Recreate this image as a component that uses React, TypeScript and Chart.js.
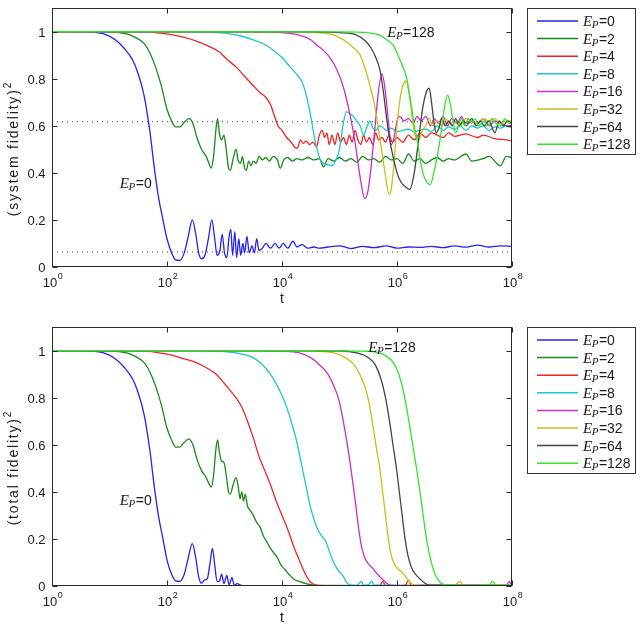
import { useEffect, useRef } from 'react';
import { Chart, registerables } from 'chart.js';

Chart.register(...registerables);

// Each point is [log10(t), fidelity^2]
type Pt = [number, number];

const EP_VALUES = ['0', '2', '4', '8', '16', '32', '64', '128'];
const COLORS = ['#2424ee', '#198a19', '#f02424', '#1ec8c8', '#cc2ccc', '#c8c018', '#444444', '#2ee82e'];
const Y_TICKS = [0, 0.2, 0.4, 0.6, 0.8, 1];
const X_TICK_EXPONENTS = [0, 2, 4, 6, 8];
const SYS_REFERENCE_LEVELS = [0.617, 0.064];

// ---------- (system fidelity)^2 ----------
const sysEP0: Pt[] = [
  [0, 1], [0.6, 0.999], [0.9, 0.99], [1.1, 0.965], [1.25, 0.93], [1.4, 0.88], [1.5, 0.82], [1.6, 0.73],
  [1.7, 0.58], [1.78, 0.42], [1.85, 0.3], [1.93, 0.2], [2.0, 0.12], [2.08, 0.06], [2.15, 0.03], [2.22, 0.028],
  [2.3, 0.06], [2.37, 0.13], [2.44, 0.2], [2.5, 0.14], [2.55, 0.06], [2.6, 0.035], [2.66, 0.05], [2.72, 0.12],
  [2.78, 0.2], [2.83, 0.12], [2.87, 0.05], [2.92, 0.07], [2.96, 0.14], [3.0, 0.06], [3.04, 0.04], [3.08, 0.13],
  [3.11, 0.16], [3.14, 0.05], [3.18, 0.15], [3.21, 0.04], [3.25, 0.12], [3.28, 0.05], [3.32, 0.1], [3.35, 0.06],
  [3.39, 0.13], [3.43, 0.06], [3.48, 0.09], [3.52, 0.06], [3.56, 0.12], [3.6, 0.07], [3.66, 0.08], [3.72, 0.1],
  [3.8, 0.08], [3.88, 0.1], [3.95, 0.08], [4.02, 0.1], [4.1, 0.08], [4.19, 0.11], [4.26, 0.085], [4.35, 0.095],
  [4.45, 0.08], [4.55, 0.085], [4.65, 0.08], [4.8, 0.085], [5.0, 0.09], [5.2, 0.078], [5.4, 0.088], [5.6, 0.082],
  [5.8, 0.09], [6.0, 0.08], [6.2, 0.085], [6.4, 0.083], [6.6, 0.088], [6.8, 0.082], [7.0, 0.09], [7.2, 0.084],
  [7.4, 0.093], [7.6, 0.085], [7.8, 0.09], [8, 0.088],
];
const sysEP2: Pt[] = [
  [0, 1], [1.0, 0.998], [1.3, 0.99], [1.45, 0.975], [1.6, 0.95], [1.7, 0.91], [1.8, 0.85], [1.9, 0.77],
  [2.0, 0.67], [2.08, 0.62], [2.15, 0.595], [2.22, 0.595], [2.3, 0.615], [2.38, 0.63], [2.45, 0.61], [2.52, 0.55],
  [2.6, 0.5], [2.68, 0.47], [2.73, 0.44], [2.77, 0.42], [2.81, 0.47], [2.85, 0.58], [2.88, 0.63], [2.91, 0.57],
  [2.95, 0.54], [2.99, 0.56], [3.03, 0.5], [3.07, 0.42], [3.1, 0.41], [3.15, 0.46], [3.2, 0.5], [3.24, 0.45],
  [3.28, 0.44], [3.31, 0.47], [3.35, 0.42], [3.38, 0.41], [3.42, 0.45], [3.46, 0.43], [3.5, 0.45], [3.55, 0.44],
  [3.6, 0.47], [3.66, 0.455], [3.72, 0.465], [3.78, 0.45], [3.85, 0.47], [3.92, 0.455], [3.97, 0.42], [4.03, 0.455],
  [4.1, 0.465], [4.18, 0.45], [4.26, 0.46], [4.35, 0.455], [4.45, 0.465], [4.55, 0.455], [4.65, 0.46], [4.72, 0.425],
  [4.8, 0.46], [4.9, 0.45], [5.0, 0.465], [5.1, 0.45], [5.2, 0.46], [5.3, 0.445], [5.4, 0.47], [5.5, 0.455],
  [5.6, 0.46], [5.7, 0.445], [5.8, 0.47], [5.9, 0.455], [6.0, 0.46], [6.1, 0.44], [6.2, 0.48], [6.3, 0.45],
  [6.4, 0.46], [6.5, 0.44], [6.6, 0.455], [6.7, 0.465], [6.8, 0.45], [6.9, 0.46], [7.0, 0.455], [7.2, 0.48],
  [7.3, 0.45], [7.5, 0.46], [7.6, 0.47], [7.8, 0.43], [7.9, 0.47], [8, 0.465],
];
const sysEP4: Pt[] = [
  [0, 1], [1.5, 0.999], [2.0, 0.99], [2.3, 0.975], [2.5, 0.96], [2.7, 0.94], [2.9, 0.915], [3.05, 0.88],
  [3.2, 0.85], [3.35, 0.81], [3.5, 0.77], [3.62, 0.74], [3.72, 0.72], [3.8, 0.69], [3.87, 0.64], [3.93, 0.6],
  [4.0, 0.58], [4.08, 0.55], [4.16, 0.53], [4.22, 0.51], [4.27, 0.505], [4.32, 0.54], [4.37, 0.525], [4.42, 0.535],
  [4.48, 0.52], [4.54, 0.53], [4.6, 0.51], [4.65, 0.56], [4.7, 0.58], [4.74, 0.55], [4.78, 0.57], [4.82, 0.52],
  [4.87, 0.56], [4.92, 0.52], [4.97, 0.57], [5.02, 0.53], [5.07, 0.55], [5.12, 0.52], [5.17, 0.56], [5.22, 0.53],
  [5.27, 0.58], [5.32, 0.54], [5.37, 0.52], [5.42, 0.56], [5.47, 0.53], [5.52, 0.55], [5.58, 0.52], [5.63, 0.57],
  [5.68, 0.54], [5.74, 0.55], [5.8, 0.53], [5.86, 0.56], [5.92, 0.53], [6.0, 0.55], [6.1, 0.53], [6.2, 0.56],
  [6.3, 0.54], [6.4, 0.57], [6.5, 0.55], [6.6, 0.57], [6.7, 0.56], [6.8, 0.55], [6.9, 0.57], [7.0, 0.555],
  [7.2, 0.565], [7.4, 0.55], [7.5, 0.56], [7.7, 0.545], [7.9, 0.54], [8, 0.535],
];
const sysEP8: Pt[] = [
  [0, 1], [2.5, 0.999], [3.0, 0.993], [3.3, 0.98], [3.5, 0.965], [3.7, 0.945], [3.85, 0.92], [4.0, 0.89],
  [4.14, 0.85], [4.25, 0.82], [4.34, 0.79], [4.4, 0.75], [4.45, 0.7], [4.5, 0.64], [4.55, 0.57], [4.6, 0.51],
  [4.66, 0.46], [4.72, 0.44], [4.8, 0.435], [4.87, 0.43], [4.93, 0.45], [5.0, 0.5], [5.06, 0.6], [5.12, 0.66],
  [5.18, 0.65], [5.24, 0.64], [5.3, 0.62], [5.36, 0.6], [5.42, 0.56], [5.47, 0.59], [5.53, 0.62], [5.58, 0.59],
  [5.63, 0.58], [5.7, 0.6], [5.76, 0.59], [5.82, 0.58], [5.9, 0.59], [6.0, 0.575], [6.1, 0.58], [6.2, 0.585],
  [6.3, 0.575], [6.4, 0.58], [6.5, 0.585], [6.6, 0.575], [6.7, 0.6], [6.8, 0.58], [6.9, 0.595], [7.0, 0.585],
  [7.1, 0.6], [7.2, 0.58], [7.3, 0.6], [7.4, 0.59], [7.5, 0.6], [7.6, 0.58], [7.7, 0.595], [7.8, 0.59],
  [7.9, 0.6], [8, 0.59],
];
const sysEP16: Pt[] = [
  [0, 1], [3.5, 0.999], [4.0, 0.995], [4.3, 0.985], [4.5, 0.965], [4.62, 0.94], [4.72, 0.92], [4.83, 0.89],
  [4.95, 0.84], [5.06, 0.77], [5.18, 0.65], [5.27, 0.53], [5.36, 0.38], [5.44, 0.29], [5.5, 0.33], [5.56, 0.45],
  [5.62, 0.6], [5.68, 0.75], [5.74, 0.82], [5.79, 0.76], [5.85, 0.62], [5.9, 0.52], [5.95, 0.55], [6.0, 0.62],
  [6.05, 0.64], [6.12, 0.62], [6.2, 0.63], [6.28, 0.61], [6.35, 0.64], [6.42, 0.62], [6.5, 0.64], [6.58, 0.6],
  [6.65, 0.63], [6.72, 0.61], [6.8, 0.64], [6.88, 0.6], [6.95, 0.63], [7.05, 0.61], [7.12, 0.64], [7.2, 0.6],
  [7.3, 0.62], [7.4, 0.61], [7.5, 0.63], [7.6, 0.6], [7.7, 0.62], [7.8, 0.61], [7.9, 0.6], [8, 0.6],
];
const sysEP32: Pt[] = [
  [0, 1], [4.0, 0.999], [4.6, 0.995], [4.9, 0.985], [5.1, 0.96], [5.25, 0.93], [5.36, 0.9], [5.45, 0.84],
  [5.53, 0.77], [5.6, 0.7], [5.65, 0.63], [5.7, 0.55], [5.76, 0.45], [5.81, 0.37], [5.86, 0.31], [5.9, 0.33],
  [5.95, 0.45], [6.0, 0.6], [6.05, 0.71], [6.1, 0.77], [6.16, 0.79], [6.22, 0.72], [6.28, 0.6], [6.33, 0.55],
  [6.38, 0.54], [6.44, 0.58], [6.5, 0.6], [6.56, 0.63], [6.62, 0.6], [6.7, 0.62], [6.78, 0.6], [6.85, 0.63],
  [6.92, 0.61], [7.0, 0.62], [7.1, 0.6], [7.2, 0.63], [7.3, 0.62], [7.4, 0.61], [7.5, 0.63], [7.6, 0.62],
  [7.7, 0.63], [7.8, 0.61], [7.9, 0.62], [8, 0.62],
];
const sysEP64: Pt[] = [
  [0, 1], [4.5, 0.999], [5.0, 0.995], [5.3, 0.985], [5.45, 0.96], [5.55, 0.93], [5.63, 0.89], [5.7, 0.84],
  [5.76, 0.75], [5.82, 0.63], [5.88, 0.53], [5.94, 0.46], [6.0, 0.4], [6.07, 0.36], [6.15, 0.34], [6.22, 0.33],
  [6.3, 0.4], [6.38, 0.55], [6.45, 0.68], [6.52, 0.75], [6.56, 0.76], [6.6, 0.7], [6.64, 0.62], [6.68, 0.57],
  [6.73, 0.59], [6.78, 0.63], [6.84, 0.6], [6.9, 0.62], [6.96, 0.6], [7.02, 0.63], [7.08, 0.6], [7.15, 0.62],
  [7.22, 0.61], [7.3, 0.63], [7.38, 0.6], [7.45, 0.62], [7.52, 0.6], [7.6, 0.62], [7.7, 0.57], [7.78, 0.62],
  [7.85, 0.6], [7.92, 0.62], [8, 0.61],
];
const sysEP128: Pt[] = [
  [0, 1], [5.0, 0.999], [5.5, 0.995], [5.7, 0.985], [5.85, 0.96], [5.94, 0.94], [6.05, 0.88], [6.12, 0.84],
  [6.17, 0.8], [6.22, 0.73], [6.26, 0.67], [6.3, 0.6], [6.35, 0.54], [6.4, 0.46], [6.45, 0.4], [6.52, 0.36],
  [6.58, 0.35], [6.64, 0.4], [6.7, 0.47], [6.76, 0.56], [6.82, 0.67], [6.88, 0.73], [6.92, 0.7], [6.97, 0.63],
  [7.02, 0.57], [7.07, 0.6], [7.12, 0.63], [7.18, 0.6], [7.24, 0.63], [7.3, 0.61], [7.36, 0.63], [7.42, 0.6],
  [7.5, 0.62], [7.58, 0.6], [7.65, 0.63], [7.72, 0.61], [7.8, 0.6], [7.88, 0.63], [7.95, 0.61], [8, 0.61],
];

// ---------- (total fidelity)^2 ----------
const totEP0: Pt[] = [
  [0, 1], [0.6, 0.999], [0.9, 0.99], [1.1, 0.965], [1.25, 0.93], [1.4, 0.88], [1.5, 0.82], [1.6, 0.73],
  [1.7, 0.58], [1.78, 0.42], [1.85, 0.3], [1.93, 0.2], [2.0, 0.11], [2.08, 0.05], [2.15, 0.022], [2.22, 0.02],
  [2.3, 0.05], [2.37, 0.12], [2.44, 0.18], [2.5, 0.12], [2.55, 0.04], [2.6, 0.012], [2.65, 0.025], [2.7, 0.03],
  [2.75, 0.1], [2.79, 0.16], [2.83, 0.09], [2.87, 0.02], [2.91, 0.02], [2.95, 0.05], [2.99, 0.01], [3.04, 0.045],
  [3.08, 0.005], [3.13, 0.035], [3.17, 0.003], [3.22, 0.01], [3.3, 0.002], [3.5, 0.001], [8, 0],
];
const totEP2: Pt[] = [
  [0, 1], [1.0, 0.998], [1.3, 0.99], [1.45, 0.975], [1.6, 0.95], [1.7, 0.91], [1.8, 0.85], [1.9, 0.77],
  [2.0, 0.67], [2.08, 0.62], [2.15, 0.59], [2.22, 0.59], [2.3, 0.61], [2.38, 0.625], [2.45, 0.6], [2.52, 0.54],
  [2.6, 0.49], [2.67, 0.465], [2.72, 0.44], [2.77, 0.42], [2.81, 0.47], [2.85, 0.58], [2.88, 0.62], [2.91, 0.57],
  [2.95, 0.53], [2.99, 0.525], [3.03, 0.47], [3.07, 0.4], [3.1, 0.39], [3.15, 0.43], [3.2, 0.46], [3.24, 0.42],
  [3.27, 0.37], [3.3, 0.4], [3.33, 0.36], [3.36, 0.39], [3.4, 0.34], [3.45, 0.32], [3.5, 0.3], [3.56, 0.27],
  [3.62, 0.25], [3.68, 0.21], [3.73, 0.19], [3.8, 0.16], [3.86, 0.14], [3.92, 0.12], [3.98, 0.09], [4.05, 0.07],
  [4.12, 0.05], [4.2, 0.03], [4.3, 0.02], [4.45, 0.008], [4.6, 0.003], [8, 0],
];
const totEP4: Pt[] = [
  [0, 1], [1.5, 0.999], [2.0, 0.985], [2.3, 0.965], [2.5, 0.95], [2.7, 0.925], [2.85, 0.9], [3.0, 0.86],
  [3.1, 0.83], [3.2, 0.8], [3.3, 0.76], [3.4, 0.7], [3.5, 0.63], [3.6, 0.55], [3.7, 0.49], [3.8, 0.43],
  [3.9, 0.36], [4.0, 0.3], [4.1, 0.24], [4.2, 0.17], [4.3, 0.11], [4.37, 0.07], [4.44, 0.035], [4.5, 0.015],
  [4.58, 0.005], [4.7, 0.002], [5.7, 0.002], [5.75, 0.02], [5.8, 0.003], [6.0, 0.001], [6.15, 0.005], [6.2, 0.025],
  [6.25, 0.003], [8, 0.001],
];
const totEP8: Pt[] = [
  [0, 1], [2.5, 0.999], [3.0, 0.995], [3.3, 0.985], [3.5, 0.97], [3.7, 0.93], [3.85, 0.88], [4.0, 0.81],
  [4.08, 0.76], [4.17, 0.69], [4.25, 0.62], [4.32, 0.54], [4.37, 0.48], [4.43, 0.41], [4.49, 0.34], [4.56, 0.28],
  [4.62, 0.24], [4.7, 0.21], [4.76, 0.19], [4.82, 0.15], [4.88, 0.11], [4.94, 0.08], [5.0, 0.06], [5.07, 0.04],
  [5.12, 0.015], [5.2, 0.004], [5.3, 0.003], [5.38, 0.02], [5.42, 0.003], [5.5, 0.005], [5.56, 0.02], [5.6, 0.004],
  [8, 0.002],
];
const totEP16: Pt[] = [
  [0, 1], [3.5, 0.999], [4.0, 0.997], [4.3, 0.99], [4.5, 0.97], [4.65, 0.94], [4.8, 0.9], [4.9, 0.85],
  [5.0, 0.78], [5.08, 0.68], [5.15, 0.58], [5.22, 0.46], [5.28, 0.35], [5.33, 0.25], [5.38, 0.17], [5.44, 0.12],
  [5.5, 0.095], [5.58, 0.075], [5.66, 0.05], [5.74, 0.03], [5.82, 0.012], [5.9, 0.003], [6.3, 0.002], [6.5, 0.004],
  [7.9, 0.003], [7.95, 0.018], [8, 0.005],
];
const totEP32: Pt[] = [
  [0, 1], [4.0, 0.999], [4.6, 0.997], [4.9, 0.99], [5.1, 0.97], [5.25, 0.94], [5.35, 0.9], [5.45, 0.84],
  [5.52, 0.77], [5.58, 0.68], [5.64, 0.59], [5.7, 0.5], [5.75, 0.4], [5.8, 0.3], [5.85, 0.2], [5.9, 0.13],
  [5.96, 0.09], [6.03, 0.07], [6.1, 0.055], [6.18, 0.03], [6.25, 0.01], [6.35, 0.003], [7.0, 0.003], [7.1, 0.02],
  [7.15, 0.003], [8, 0.003],
];
const totEP64: Pt[] = [
  [0, 1], [4.5, 0.999], [5.0, 0.998], [5.3, 0.99], [5.5, 0.97], [5.62, 0.94], [5.72, 0.88], [5.8, 0.8],
  [5.87, 0.7], [5.93, 0.6], [5.99, 0.5], [6.04, 0.4], [6.09, 0.3], [6.14, 0.2], [6.19, 0.13], [6.25, 0.08],
  [6.32, 0.05], [6.4, 0.03], [6.47, 0.015], [6.55, 0.004], [8, 0.003],
];
const totEP128: Pt[] = [
  [0, 1], [5.0, 0.999], [5.5, 0.997], [5.75, 0.985], [5.9, 0.96], [6.0, 0.92], [6.08, 0.86], [6.15, 0.78],
  [6.22, 0.68], [6.28, 0.59], [6.34, 0.5], [6.4, 0.4], [6.45, 0.31], [6.5, 0.22], [6.56, 0.14], [6.62, 0.08],
  [6.68, 0.04], [6.75, 0.015], [6.85, 0.005], [7.6, 0.004], [7.66, 0.02], [7.72, 0.004], [8, 0.004],
];

const SYSTEM_SERIES = [sysEP0, sysEP2, sysEP4, sysEP8, sysEP16, sysEP32, sysEP64, sysEP128];
const TOTAL_SERIES = [totEP0, totEP2, totEP4, totEP8, totEP16, totEP32, totEP64, totEP128];

const SANS = '"Liberation Sans", Arial, sans-serif';
const SERIF = '"Liberation Serif", "Times New Roman", serif';

type Note = { ep: string; at: Pt };
type PanelSpec = {
  yTitle: string;
  notes: Note[];
  refLevels: number[];
};

// Draws "E_P=<value>" with italic math E and subscript P
function drawEp(ctx: CanvasRenderingContext2D, value: string, x: number, baseline: number) {
  ctx.textAlign = 'left';
  ctx.textBaseline = 'alphabetic';
  ctx.font = `italic 15px ${SERIF}`;
  ctx.fillText('E', x, baseline);
  let cx = x + ctx.measureText('E').width - 0.5;
  ctx.font = `italic 11px ${SERIF}`;
  ctx.fillText('P', cx, baseline + 2);
  cx += ctx.measureText('P').width + 0.5;
  ctx.font = `14px ${SANS}`;
  ctx.fillText('=' + value, cx, baseline);
}

function makeDecor(spec: PanelSpec) {
  return {
    id: 'panelDecor',
    afterDraw(chart: any) {
      const { ctx, chartArea: a, scales } = chart;
      const xs = scales.x;
      const ys = scales.y;
      const L = Math.round(a.left) + 0.5;
      const R = Math.round(a.right) - 0.5;
      const T = Math.round(a.top) + 0.5;
      const B = Math.round(a.bottom) - 0.5;
      ctx.save();
      ctx.fillStyle = '#1a1a1a';
      ctx.strokeStyle = '#2a2a2a';
      ctx.lineWidth = 1;

      // frame
      ctx.strokeRect(L, T, R - L, B - T);

      // y ticks (inward, both sides) and labels
      ctx.font = `13px ${SANS}`;
      ctx.textAlign = 'right';
      ctx.textBaseline = 'middle';
      for (const v of Y_TICKS) {
        const py = Math.round(ys.getPixelForValue(v)) + 0.5;
        ctx.beginPath();
        ctx.moveTo(L, py);
        ctx.lineTo(L + 5, py);
        ctx.moveTo(R, py);
        ctx.lineTo(R - 5, py);
        ctx.stroke();
        ctx.fillText(String(v), L - 7, py + 1);
      }

      // x ticks (inward, top and bottom) and 10^n labels
      for (const e of X_TICK_EXPONENTS) {
        const px = Math.round(xs.getPixelForValue(10 ** e)) + 0.5;
        ctx.beginPath();
        ctx.moveTo(px, B);
        ctx.lineTo(px, B - 5);
        ctx.moveTo(px, T);
        ctx.lineTo(px, T + 5);
        ctx.stroke();
        ctx.font = `13px ${SANS}`;
        const wBase = ctx.measureText('10').width;
        ctx.font = `9px ${SANS}`;
        const wExp = ctx.measureText(String(e)).width;
        const x0 = px - (wBase + wExp) / 2;
        ctx.textAlign = 'left';
        ctx.textBaseline = 'alphabetic';
        ctx.font = `13px ${SANS}`;
        ctx.fillText('10', x0, B + 20);
        ctx.font = `9px ${SANS}`;
        ctx.fillText(String(e), x0 + wBase + 0.5, B + 12);
      }

      // x title
      ctx.font = `14px ${SANS}`;
      ctx.textAlign = 'center';
      ctx.fillText('t', (a.left + a.right) / 2, B + 36);

      // y title with superscript 2
      ctx.save();
      ctx.translate(14, (a.top + a.bottom) / 2 + 12);
      ctx.rotate(-Math.PI / 2);
      (ctx as any).letterSpacing = '1.8px';
      ctx.font = `14px ${SANS}`;
      const wTitle = ctx.measureText(spec.yTitle).width;
      (ctx as any).letterSpacing = '0px';
      ctx.font = `10px ${SANS}`;
      const wSup = ctx.measureText('2').width;
      const tx = -(wTitle + wSup) / 2;
      ctx.textAlign = 'left';
      ctx.textBaseline = 'middle';
      (ctx as any).letterSpacing = '1.8px';
      ctx.font = `14px ${SANS}`;
      ctx.fillText(spec.yTitle, tx, 0);
      (ctx as any).letterSpacing = '0px';
      ctx.font = `10px ${SANS}`;
      ctx.fillText('2', tx + wTitle, -6);
      ctx.restore();

      // in-plot labels
      for (const n of spec.notes) {
        const nx = xs.getPixelForValue(10 ** n.at[0]);
        const ny = ys.getPixelForValue(n.at[1]);
        drawEp(ctx, n.ep, nx, ny + 5);
      }

      // legend box
      const lx = 527;
      const ly = Math.round(a.top);
      const lw = 108;
      const lh = 146;
      ctx.fillStyle = '#ffffff';
      ctx.fillRect(lx, ly, lw, lh);
      ctx.strokeStyle = '#333333';
      ctx.lineWidth = 1;
      ctx.strokeRect(lx + 0.5, ly + 0.5, lw, lh);
      chart.data.datasets.forEach((ds: any, i: number) => {
        if (i >= EP_VALUES.length) return;
        const ry = ly + 13 + i * 17.6;
        ctx.strokeStyle = ds.borderColor;
        ctx.lineWidth = 1.5;
        ctx.beginPath();
        ctx.moveTo(lx + 10, ry);
        ctx.lineTo(lx + 51, ry);
        ctx.stroke();
        ctx.fillStyle = '#1a1a1a';
        drawEp(ctx, EP_VALUES[i], lx + 56, ry + 5);
      });
      ctx.restore();
    },
  };
}

function buildConfig(series: Pt[][], spec: PanelSpec, padTop: number, padBottom: number): any {
  const datasets: any[] = series.map((pts, i) => ({
    label: 'E_P=' + EP_VALUES[i],
    data: pts.map(([e, v]) => ({ x: 10 ** e, y: v })),
    borderColor: COLORS[i],
    backgroundColor: COLORS[i],
    borderWidth: 1.3,
    pointRadius: 0,
    cubicInterpolationMode: 'monotone',
    order: series.length - i,
  }));
  for (const level of spec.refLevels) {
    datasets.push({
      label: 'ref',
      data: [{ x: 1, y: level }, { x: 1e8, y: level }],
      borderColor: '#3a3a3a',
      borderWidth: 1,
      borderDash: [1, 4],
      pointRadius: 0,
      order: 100,
    });
  }
  return {
    type: 'line',
    data: { datasets },
    options: {
      responsive: false,
      animation: false,
      events: [],
      layout: { padding: { left: 52, right: 130, top: padTop, bottom: padBottom } },
      plugins: { legend: { display: false }, tooltip: { enabled: false } },
      scales: {
        x: { type: 'logarithmic', min: 1, max: 1e8, display: false },
        y: { type: 'linear', min: 0, max: 1.1, display: false },
      },
    },
    plugins: [makeDecor(spec)],
  };
}

const SYSTEM_SPEC: PanelSpec = {
  yTitle: '(system fidelity)',
  notes: [
    { ep: '0', at: [1.18, 0.357] },
    { ep: '128', at: [5.83, 0.996] },
  ],
  refLevels: SYS_REFERENCE_LEVELS,
};
const TOTAL_SPEC: PanelSpec = {
  yTitle: '(total fidelity)',
  notes: [
    { ep: '0', at: [1.18, 0.366] },
    { ep: '128', at: [5.5, 1.017] },
  ],
  refLevels: [],
};

function Panel({ series, spec, padTop, padBottom }: { series: Pt[][]; spec: PanelSpec; padTop: number; padBottom: number }) {
  const ref = useRef<HTMLCanvasElement>(null);
  useEffect(() => {
    if (!ref.current) return;
    const chart = new Chart(ref.current, buildConfig(series, spec, padTop, padBottom));
    return () => chart.destroy();
  }, [series, spec, padTop, padBottom]);
  return <canvas ref={ref} width={642} height={313} style={{ display: 'block' }} />;
}

export default function App() {
  return (
    <div style={{ position: 'absolute', left: 0, top: 0, width: 642, height: 626, background: '#fff' }}>
      <Panel series={SYSTEM_SERIES} spec={SYSTEM_SPEC} padTop={8} padBottom={46} />
      <Panel series={TOTAL_SERIES} spec={TOTAL_SPEC} padTop={14} padBottom={40} />
    </div>
  );
}
